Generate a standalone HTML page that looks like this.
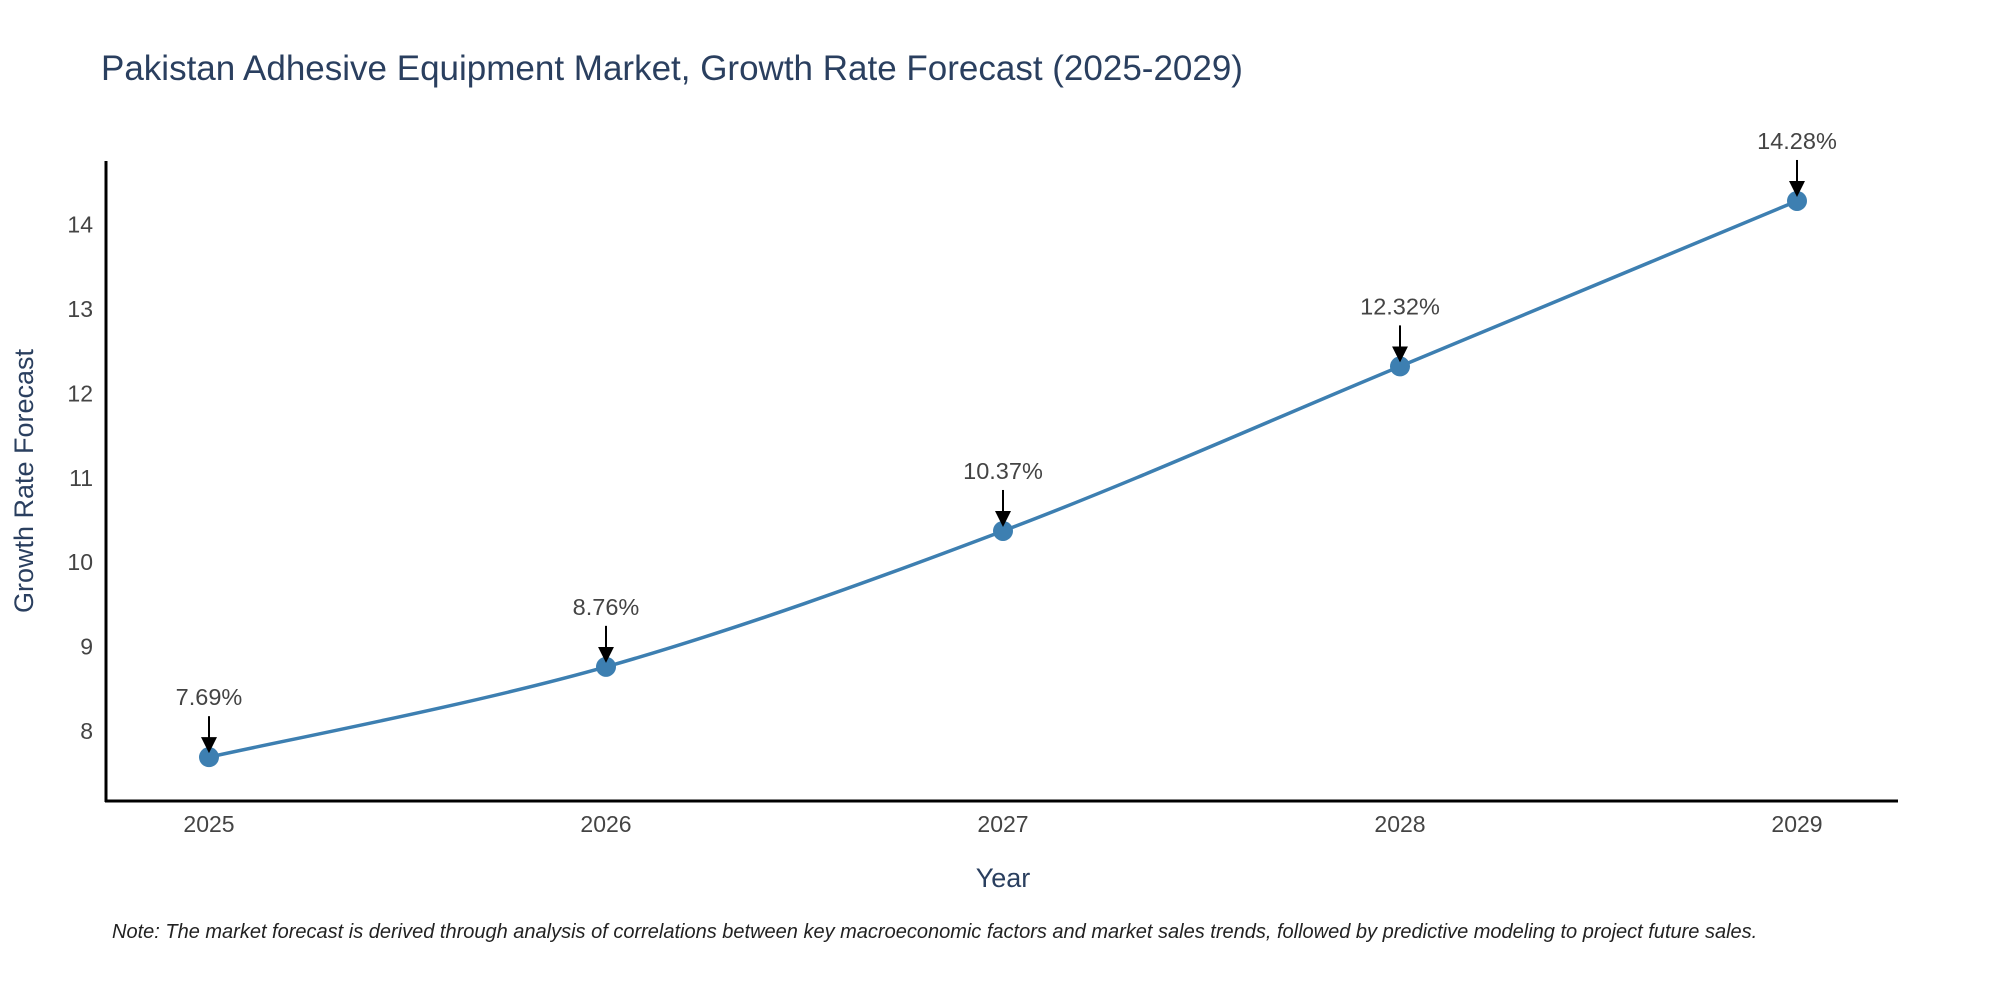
<!DOCTYPE html>
<html><head><meta charset="utf-8"><style>
body{margin:0;background:#fff;}
svg{display:block;font-family:"Liberation Sans",sans-serif;}
</style></head><body>
<svg id="chart" width="2000" height="1000">
<defs><marker id="ah" markerWidth="16" markerHeight="16" refX="14" refY="8" orient="auto" markerUnits="userSpaceOnUse" viewBox="0 0 16 16"><path d="M0,0 L16,8 L0,16 z" fill="#000"/></marker></defs>
<text x="101" y="80" font-size="35" fill="#2a3f5f">Pakistan Adhesive Equipment Market, Growth Rate Forecast (2025-2029)</text>
<g id="yticks"></g><g id="xticks"></g>
<path id="line" fill="none" stroke="#3d7fb1" stroke-width="3.5"/>
<g id="marks"></g>
<line x1="106" y1="161" x2="106" y2="802" stroke="#000" stroke-width="3"/>
<line x1="105" y1="801" x2="1898" y2="801" stroke="#000" stroke-width="3"/>
<text transform="translate(33,481) rotate(-90)" text-anchor="middle" font-size="27" fill="#2a3f5f">Growth Rate Forecast</text>
<text x="1003" y="887" text-anchor="middle" font-size="27" fill="#2a3f5f">Year</text>
<text x="112" y="938" font-size="20" font-style="italic" fill="#222">Note: The market forecast is derived through analysis of correlations between key macroeconomic factors and market sales trends, followed by predictive modeling to project future sales.</text>
</svg>
<script>
const years=[2025,2026,2027,2028,2029];
const values=[7.69,8.76,10.37,12.32,14.28];
const labels=["7.69%","8.76%","10.37%","12.32%","14.28%"];
const yTicks=[8,9,10,11,12,13,14];
const NS="http://www.w3.org/2000/svg";
const xs=y=>209+(y-2025)*(1797-209)/4;
const ys=v=>731-(v-8)*84.4;
function mk(t,a,p){const e=document.createElementNS(NS,t);for(const k in a)e.setAttribute(k,a[k]);p.appendChild(e);return e;}
const yt=document.getElementById('yticks');
yTicks.forEach(v=>{const t=mk('text',{x:93,y:ys(v)+8,'text-anchor':'end','font-size':23,fill:'#444'},yt);t.textContent=v;

});
const xt=document.getElementById('xticks');
years.forEach(y=>{const t=mk('text',{x:xs(y),y:832,'text-anchor':'middle','font-size':23,fill:'#444'},xt);t.textContent=y;

});
const P=years.map((y,i)=>[xs(y),ys(values[i])]);
let d=`M${P[0][0]},${P[0][1]}`;
for(let i=0;i<P.length-1;i++){const p0=P[Math.max(0,i-1)],p1=P[i],p2=P[i+1],p3=P[Math.min(P.length-1,i+2)];
const c1=[p1[0]+(p2[0]-p0[0])/6,p1[1]+(p2[1]-p0[1])/6],c2=[p2[0]-(p3[0]-p1[0])/6,p2[1]-(p3[1]-p1[1])/6];
d+=` C${c1[0]},${c1[1]} ${c2[0]},${c2[1]} ${p2[0]},${p2[1]}`;}
document.getElementById('line').setAttribute('d',d);
const g=document.getElementById('marks');
P.forEach((p,i)=>{
const c=mk('circle',{cx:p[0],cy:p[1],r:10,fill:'#3d7fb1'},g);


const a=mk('line',{x1:p[0],y1:p[1]-41,x2:p[0],y2:p[1]-6,stroke:'#000','stroke-width':2,'marker-end':'url(#ah)'},g);


const t=mk('text',{x:p[0],y:p[1]-52,'text-anchor':'middle','font-size':23.5,fill:'#444'},g);t.textContent=labels[i];

});
</script>
</body></html>
